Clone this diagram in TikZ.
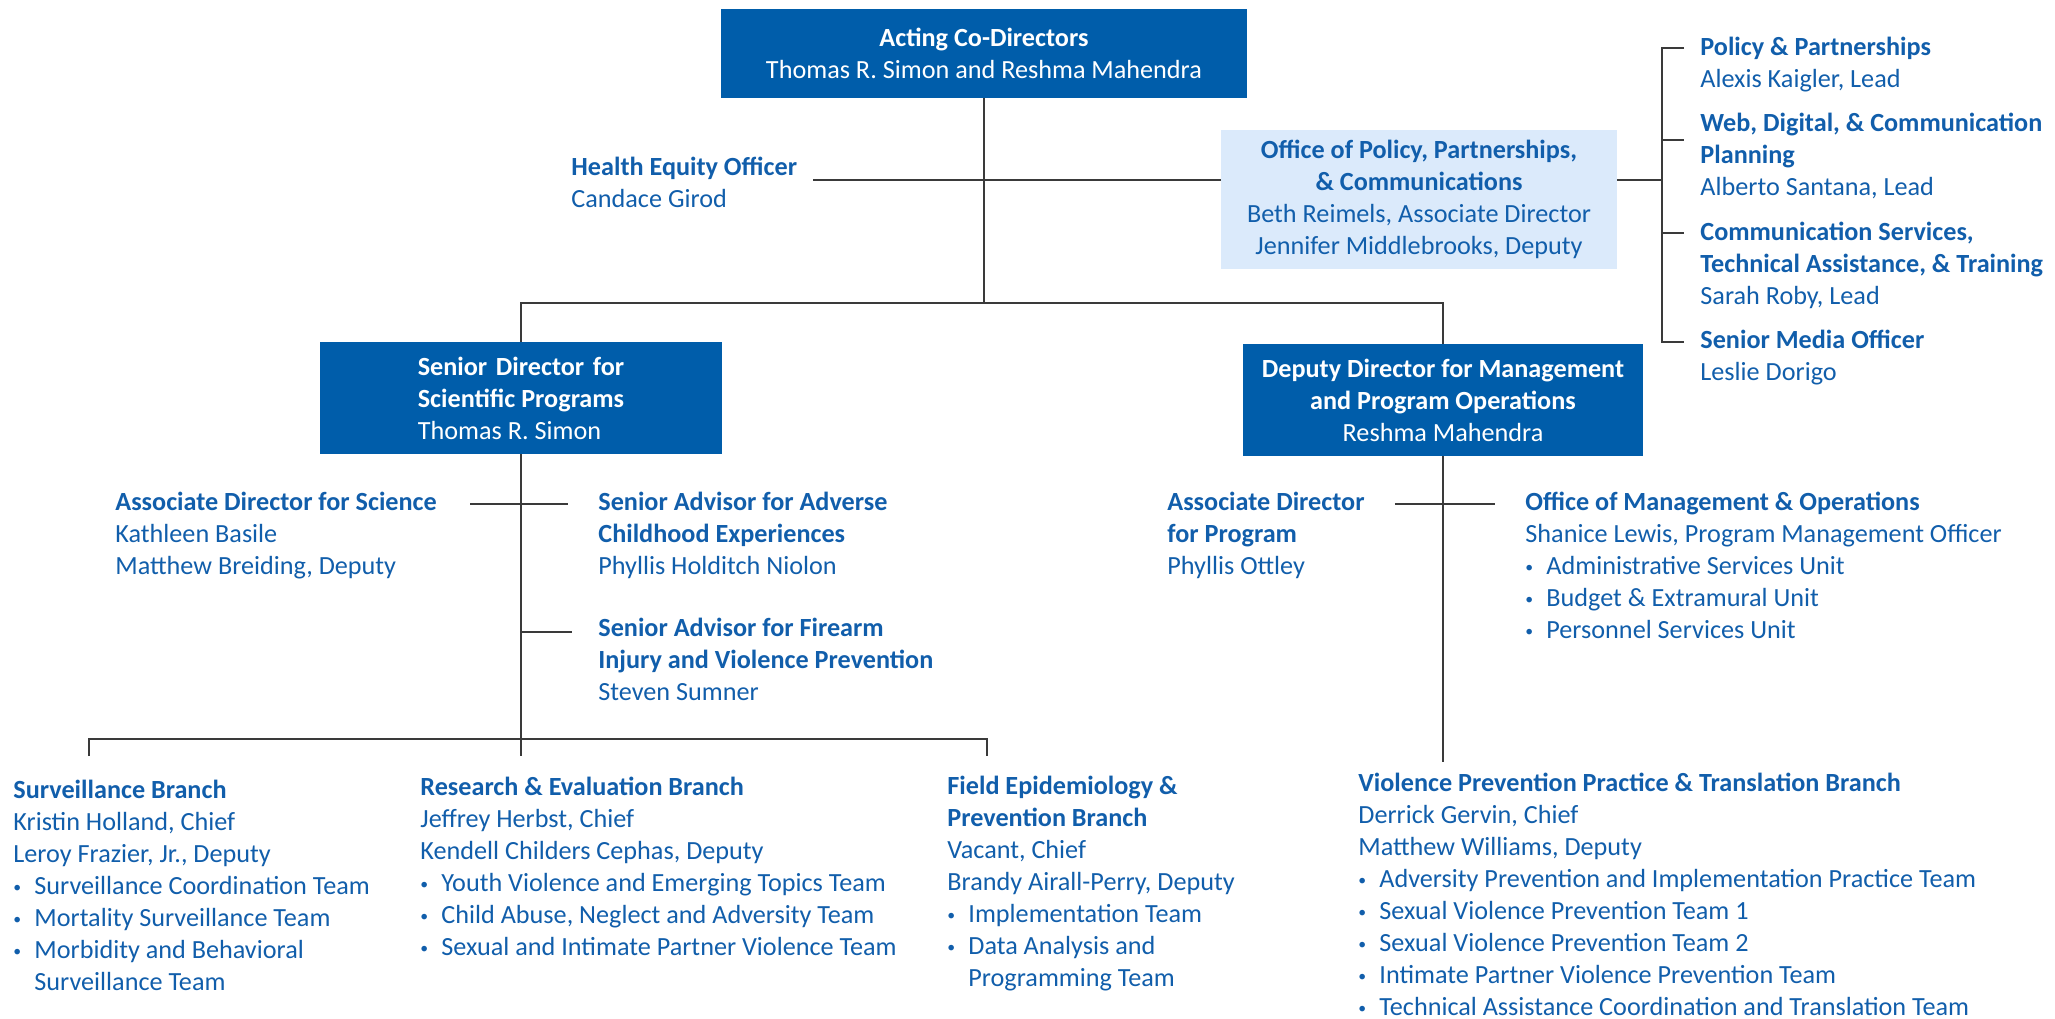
\documentclass[tikz,border=0pt]{standalone}
\usepackage{fontspec}
\usepackage{calc}
\setmainfont{Carlito}
\definecolor{cdcblue}{HTML}{005DAA}
\definecolor{cdctext}{HTML}{115EAB}
\definecolor{cdclight}{HTML}{DBEAFB}
\definecolor{linegray}{HTML}{3A3A3A}
\newcommand{\chartfont}{\fontsize{13.1}{16}\selectfont}
\newcommand{\bul}{\makebox[10.5pt][l]{\raisebox{1.2pt}{\scalebox{0.6}{\textbullet}}}}
\newcommand{\ind}{\hspace*{10.5pt}}
\tikzset{
  darkbox/.style={fill=cdcblue, text=white, inner sep=0pt},
  lightbox/.style={fill=cdclight, text=cdctext, align=center, inner sep=0pt},
  unit/.style={anchor=north west, align=left, inner sep=0pt, text=cdctext},
  link/.style={draw=linegray, line width=0.8pt}
}
\begin{document}
\begin{tikzpicture}[x=0.5pt, y=-0.5pt, font=\chartfont]
  \useasboundingbox (0,0) rectangle (2055,1018);

  \node[darkbox, align=center, minimum width=263pt, minimum height=44.5pt] (acd) at (984,53) {\textbf{Acting Co-Directors}\\Thomas R. Simon and Reshma Mahendra};
  \node[lightbox, minimum width=198pt, minimum height=69.5pt] (oppc) at (1419,199) {\textbf{Office of Policy, Partnerships,}\\\textbf{\& Communications}\\Beth Reimels, Associate Director\\Jennifer Middlebrooks, Deputy};
  \node[darkbox, align=left, minimum width=201pt, minimum height=56pt] (sdsp) at (521,398) {\makebox[\widthof{\textbf{Scientific Programs}}][s]{\textbf{Senior Director for}}\\\textbf{Scientific Programs}\\Thomas R. Simon};
  \node[darkbox, align=center, minimum width=200pt, minimum height=56pt] (ddmo) at (1443,400) {\textbf{Deputy Director for Management}\\\textbf{and Program Operations}\\Reshma Mahendra};

  \node[unit] (heo) at (571,157) {\textbf{Health Equity Officer}\\Candace Girod};
  \node[unit] (pp) at (1700,37) {\textbf{Policy \& Partnerships}\\Alexis Kaigler, Lead};
  \node[unit] (wdc) at (1700,113) {\textbf{Web, Digital, \& Communication}\\\textbf{Planning}\\Alberto Santana, Lead};
  \node[unit] (cstat) at (1700,222) {\textbf{Communication Services,}\\\textbf{Technical Assistance, \& Training}\\Sarah Roby, Lead};
  \node[unit] (smo) at (1700,330) {\textbf{Senior Media Officer}\\Leslie Dorigo};

  \node[unit] (ads) at (115,492) {\textbf{Associate Director for Science}\\Kathleen Basile\\Matthew Breiding, Deputy};
  \node[unit] (saa) at (598,492) {\textbf{Senior Advisor for Adverse}\\\textbf{Childhood Experiences}\\Phyllis Holditch Niolon};
  \node[unit] (saf) at (598,618) {\textbf{Senior Advisor for Firearm}\\\textbf{Injury and Violence Prevention}\\Steven Sumner};
  \node[unit] (adp) at (1167,492) {\textbf{Associate Director}\\\textbf{for Program}\\Phyllis Ottley};
  \node[unit] (omo) at (1525,492) {\textbf{Office of Management \& Operations}\\Shanice Lewis, Program Management Officer\\\bul Administrative Services Unit\\\bul Budget \& Extramural Unit\\\bul Personnel Services Unit};

  \node[unit] (svb) at (13,780) {\textbf{Surveillance Branch}\\Kristin Holland, Chief\\Leroy Frazier, Jr., Deputy\\\bul Surveillance Coordination Team\\\bul Mortality Surveillance Team\\\bul Morbidity and Behavioral\\\ind Surveillance Team};
  \node[unit] (reb) at (420,777) {\textbf{Research \& Evaluation Branch}\\Jeffrey Herbst, Chief\\Kendell Childers Cephas, Deputy\\\bul Youth Violence and Emerging Topics Team\\\bul Child Abuse, Neglect and Adversity Team\\\bul Sexual and Intimate Partner Violence Team};
  \node[unit] (fepb) at (947,776) {\textbf{Field Epidemiology \&}\\\textbf{Prevention Branch}\\Vacant, Chief\\Brandy Airall-Perry, Deputy\\\bul Implementation Team\\\bul Data Analysis and\\\ind Programming Team};
  \node[unit] (vppt) at (1358,773) {\textbf{Violence Prevention Practice \& Translation Branch}\\Derrick Gervin, Chief\\Matthew Williams, Deputy\\\bul Adversity Prevention and Implementation Practice Team\\\bul Sexual Violence Prevention Team 1\\\bul Sexual Violence Prevention Team 2\\\bul Intimate Partner Violence Prevention Team\\\bul Technical Assistance Coordination and Translation Team};

  \coordinate (hy) at (0,180);
  \coordinate (topbus) at (984,303);
  \coordinate (midy) at (0,504);
  \coordinate (fiy) at (0,632);
  \coordinate (bl) at (89,739);
  \coordinate (br) at (987,739);
  \coordinate (endy) at (0,756);
  \coordinate (vend) at (0,762);
  \coordinate (brk) at (1662,0);
  \coordinate (hl) at ([xshift=8pt]heo.east);
  \coordinate (al) at ([xshift=16.5pt]ads.east);
  \coordinate (ar) at ([xshift=-15pt]saa.west);
  \coordinate (fr) at ([xshift=-13pt]saf.west);
  \coordinate (pl) at ([xshift=15pt]adp.east);
  \coordinate (pr) at ([xshift=-15pt]omo.west);
  \coordinate (t1) at ([shift={(-8pt,-5.5pt)}]pp.north west);
  \coordinate (t2) at ([shift={(-8pt,-13.5pt)}]wdc.north west);
  \coordinate (t3) at ([shift={(-8pt,-5.5pt)}]cstat.north west);
  \coordinate (t4) at ([shift={(-8pt,-6pt)}]smo.north west);

  \draw[link] (acd.south) -- (topbus);
  \draw[link] (sdsp.north) |- (topbus) -| (ddmo.north);
  \draw[link] (hl |- hy) -- (oppc.west |- hy);
  \draw[link] (oppc.east |- hy) -- (brk |- hy);
  \draw[link] (t1) -| (brk |- t4) -- (t4);
  \draw[link] (brk |- t2) -- (t2);
  \draw[link] (brk |- t3) -- (t3);
  \draw[link] (sdsp.south) -- (sdsp.south |- endy);
  \draw[link] (al |- midy) -- (ar |- midy);
  \draw[link] (sdsp.south |- fiy) -- (fr |- fiy);
  \draw[link] (bl |- endy) -- (bl) -- (br) -- (br |- endy);
  \draw[link] (ddmo.south) -- (ddmo.south |- vend);
  \draw[link] (pl |- midy) -- (pr |- midy);
\end{tikzpicture}
\end{document}
